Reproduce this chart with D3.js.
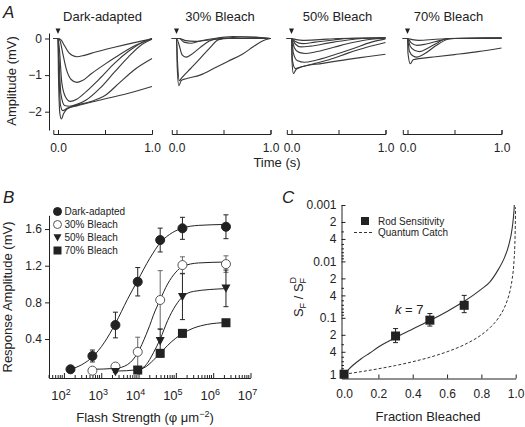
<!DOCTYPE html>
<html><head><meta charset="utf-8">
<script src="https://cdn.jsdelivr.net/npm/d3@7"></script>
<style>
body{margin:0;background:#fff;}
svg text{font-family:"Liberation Sans",Arial,Helvetica,sans-serif;fill:#222;}
</style></head><body>
<svg id="c" width="525" height="427"></svg>
<script>
// ---------------- DATA ----------------
// Panel A: ERG traces [time (s), amplitude (mV)]
const panelTitles = ["Dark-adapted", "30% Bleach", "50% Bleach", "70% Bleach"];
const darkTraces = [
  [[-0.05,0],[0,0],[0.03,-0.03],[0.07,-0.2],[0.12,-0.4],[0.2,-0.5],[0.28,-0.46],[0.4,-0.37],[0.6,-0.24],[0.8,-0.12],[1.0,-0.01]],
  [[-0.05,0],[0,0],[0.02,-0.05],[0.05,-0.4],[0.09,-0.85],[0.14,-1.12],[0.2,-1.2],[0.26,-1.15],[0.35,-0.97],[0.5,-0.7],[0.62,-0.5],[0.8,-0.22],[1.0,0]],
  [[-0.05,0],[0,0],[0.015,-0.3],[0.04,-1.2],[0.08,-1.6],[0.13,-1.72],[0.2,-1.66],[0.3,-1.45],[0.45,-1.08],[0.6,-0.68],[0.75,-0.35],[0.9,-0.1],[1.0,0]],
  [[-0.05,0],[0,0],[0.01,-0.5],[0.03,-1.5],[0.07,-1.83],[0.12,-1.85],[0.2,-1.8],[0.3,-1.68],[0.45,-1.35],[0.6,-0.92],[0.75,-0.5],[0.9,-0.15],[1.0,-0.02]],
  [[-0.05,0],[0,0],[0.008,-0.7],[0.025,-1.8],[0.05,-1.97],[0.1,-1.9],[0.2,-1.82],[0.35,-1.72],[0.5,-1.56],[0.65,-1.22],[0.8,-0.88],[1.0,-0.55]],
  [[-0.05,0],[0,0],[0.005,-1.0],[0.02,-2.05],[0.035,-2.2],[0.06,-2.05],[0.1,-1.92],[0.2,-1.84],[0.35,-1.74],[0.55,-1.62],[0.8,-1.46],[1.0,-1.31]]
];
const bleach30Traces = [
  [[-0.05,0],[0.03,0],[0.1,-0.06],[0.2,-0.08],[0.35,-0.04],[0.5,0],[0.7,0.04],[0.85,0.03],[1.0,0]],
  [[-0.05,0],[0.03,0],[0.08,-0.1],[0.15,-0.13],[0.25,-0.07],[0.4,0],[0.6,0.05],[0.8,0.04],[1.0,0]],
  [[-0.05,0],[0,0],[0.03,-0.2],[0.06,-0.45],[0.1,-0.51],[0.15,-0.45],[0.25,-0.25],[0.35,-0.07],[0.45,0],[1.0,0]],
  [[-0.05,0],[0,0],[0.01,-0.6],[0.03,-1.15],[0.06,-1.06],[0.15,-0.82],[0.25,-0.55],[0.35,-0.27],[0.45,-0.03],[0.55,0],[1.0,0]],
  [[-0.05,0],[0,0],[0.008,-0.8],[0.025,-1.29],[0.05,-1.15],[0.1,-1.1],[0.25,-1.0],[0.41,-0.8],[0.55,-0.62],[0.7,-0.43],[0.82,-0.22],[0.92,-0.06],[1.0,0]]
];
const bleach50Traces = [
  [[-0.05,0],[0,0],[0.05,-0.03],[0.12,-0.05],[0.3,-0.03],[0.5,0],[1.0,0.02]],
  [[-0.05,0],[0,0],[0.04,-0.08],[0.12,-0.14],[0.25,-0.1],[0.45,-0.04],[0.6,0],[1.0,0.02]],
  [[-0.05,0],[0,0],[0.04,-0.15],[0.1,-0.23],[0.2,-0.21],[0.4,-0.12],[0.6,-0.04],[0.75,0],[1.0,0.02]],
  [[-0.05,0],[0,0],[0.03,-0.25],[0.08,-0.38],[0.15,-0.41],[0.25,-0.37],[0.45,-0.24],[0.65,-0.11],[0.85,-0.02],[1.0,0.01]],
  [[-0.05,0],[0,0],[0.02,-0.4],[0.06,-0.6],[0.14,-0.65],[0.25,-0.6],[0.45,-0.45],[0.65,-0.28],[0.85,-0.1],[1.0,-0.01]],
  [[-0.05,0],[0,0],[0.01,-0.6],[0.04,-0.82],[0.1,-0.78],[0.25,-0.68],[0.4,-0.58],[0.6,-0.4],[0.8,-0.24],[1.0,-0.11]],
  [[-0.05,0],[0,0],[0.005,-0.6],[0.02,-0.96],[0.05,-0.84],[0.1,-0.78],[0.33,-0.68],[0.6,-0.57],[0.8,-0.5],[1.0,-0.43]]
];
const bleach70Traces = [
  [[-0.05,0],[0,0],[0.05,-0.03],[0.12,-0.05],[0.3,-0.02],[0.5,0],[1.0,0.01]],
  [[-0.05,0],[0,0],[0.04,-0.12],[0.1,-0.19],[0.2,-0.15],[0.35,-0.05],[0.45,0],[1.0,0.01]],
  [[-0.05,0],[0,0],[0.03,-0.22],[0.08,-0.33],[0.13,-0.36],[0.22,-0.26],[0.33,-0.1],[0.42,0],[1.0,0.01]],
  [[-0.05,0],[0,0],[0.02,-0.35],[0.06,-0.48],[0.1,-0.51],[0.18,-0.42],[0.3,-0.2],[0.43,-0.02],[0.5,0],[1.0,0.01]],
  [[-0.05,0],[0,0],[0.005,-0.4],[0.03,-0.69],[0.06,-0.58],[0.12,-0.55],[0.3,-0.5],[0.5,-0.44],[0.75,-0.36],[1.0,-0.26]]
];
const timeTicks = [0, 0.5, 1];
const ampTicksA = [0, -1, -2];

// Panel B: intensity-response
const groupNames = ["Dark-adapted", "30% Bleach", "50% Bleach", "70% Bleach"];
const flashDark = [150, 580, 2400, 9500, 38000, 150000, 2200000];
const ampDark   = [0.07, 0.215, 0.553, 1.025, 1.48, 1.608, 1.625];
const errDark   = [0.01, 0.065, 0.14, 0.155, 0.13, 0.12, 0.13];
const flash30 = [580, 2400, 9500, 38000, 150000, 2200000];
const amp30   = [0.055, 0.1, 0.26, 0.826, 1.207, 1.218];
const err30   = [0.02, 0.035, 0.16, 0.32, 0.09, 0.09];
const flash50 = [2400, 9500, 38000, 150000, 2200000];
const amp50   = [0.044, 0.06, 0.38, 0.862, 0.953];
const err50   = [0.01, 0.02, 0.13, 0.25, 0.2];
const flash70 = [9500, 38000, 150000, 2200000];
const amp70   = [0.062, 0.244, 0.462, 0.578];
const err70   = [0.01, 0.04, 0.04, 0.02];
const fitDark = [[150,0.07],[300,0.12],[600,0.21],[1200,0.36],[2400,0.57],[5000,0.83],[9500,1.04],[20000,1.28],[40000,1.46],[80000,1.56],[150000,1.61],[400000,1.64],[2200000,1.65]];
const fit30 = [[580,0.07],[2400,0.08],[5000,0.12],[9500,0.25],[16000,0.45],[20000,0.55],[25000,0.66],[38000,0.83],[60000,1.0],[100000,1.13],[150000,1.19],[400000,1.23],[2200000,1.24]];
const fit50 = [[2400,0.05],[9500,0.065],[16000,0.12],[25000,0.25],[38000,0.4],[60000,0.6],[100000,0.77],[150000,0.86],[300000,0.92],[2200000,0.95]];
const fit70 = [[9500,0.062],[16000,0.1],[25000,0.17],[38000,0.245],[60000,0.33],[100000,0.41],[150000,0.46],[300000,0.52],[700000,0.56],[2200000,0.58]];
const ampTicksB = [0.4, 0.8, 1.2, 1.6];
const decadeTicks = [1e2, 1e3, 1e4, 1e5, 1e6, 1e7];

// Panel C: sensitivity vs fraction bleached
const fracBleached = [0, 0.3, 0.5, 0.7];
const rodSens   = [1.0, 0.21, 0.11, 0.06];
const rodSensLo = [1.0, 0.155, 0.084, 0.04];
const rodSensHi = [1.0, 0.275, 0.14, 0.081];
const rodFit = [[0,1],[0.02,0.86],[0.05,0.7],[0.1,0.53],[0.15,0.42],[0.2,0.33],[0.3,0.225],[0.4,0.158],[0.5,0.112],[0.6,0.077],[0.7,0.051],[0.8,0.031],[0.85,0.023],[0.9,0.0137],[0.93,0.0092],[0.96,0.0051],[0.98,0.0025],[0.99,0.00126],[0.992,0.001]];
const quantumCatch = [[0,1],[0.1,0.9],[0.2,0.8],[0.3,0.7],[0.4,0.6],[0.5,0.5],[0.6,0.4],[0.7,0.3],[0.8,0.2],[0.85,0.15],[0.9,0.1],[0.93,0.07],[0.95,0.05],[0.97,0.03],[0.98,0.02],[0.99,0.01],[0.995,0.005],[0.998,0.002],[0.999,0.0011]];
const fracTicks = [0, 0.2, 0.4, 0.6, 0.8, 1.0];
const sensTicks = [0.001, 0.002, 0.004, 0.01, 0.02, 0.04, 0.1, 0.2, 0.4, 1];
const sensTickLabels = ["0.001", "2", "4", "0.01", "2", "4", "0.1", "2", "4", "1"];

// ---------------- DRAW ----------------
const svg = d3.select("#c");
const ink = "#222";

function styleAxis(g, fs) {
  g.attr("font-size", null).attr("font-family", null);
  g.selectAll("path.domain").attr("stroke", ink).attr("stroke-width", 1);
  g.selectAll(".tick line").attr("stroke", ink).attr("stroke-width", 1);
  g.selectAll(".tick text").attr("font-size", fs).attr("fill", ink);
}

// ===== Panel A =====
svg.append("text").attr("x", 3).attr("y", 18).attr("font-size", 17).attr("font-style", "italic").text("A");
const panelTraces = [darkTraces, bleach30Traces, bleach50Traces, bleach70Traces];
const panelX0 = [58, 176.5, 291.5, 407.5];
const titleX = [102.5, 220, 337.5, 448.5];
const panelW = 94;
const yA = d3.scaleLinear().domain([0.15, -2.5]).range([33, 130]);

panelTraces.forEach((traces, i) => {
  const x = d3.scaleLinear().domain([-0.05, 1]).range([panelX0[i] - 0.05 * panelW, panelX0[i] + panelW]);
  const g = svg.append("g");
  const line = d3.line().x(d => x(d[0])).y(d => yA(d[1])).curve(d3.curveMonotoneX);
  g.selectAll("path.trace").data(traces).join("path")
    .attr("class", "trace").attr("d", line)
    .attr("fill", "none").attr("stroke", "#3a3a3a").attr("stroke-width", 1.15);
  const ax = g.append("g").attr("transform", "translate(0,134)")
    .call(d3.axisBottom(x).tickValues(timeTicks).tickSize(-4).tickSizeOuter(-4).tickPadding(9)
      .tickFormat(d => d === 0.5 ? "" : d3.format(".1f")(d)));
  styleAxis(ax, 12);
  // stimulus marker
  g.append("path").attr("d", "M-2.5,-3.5L2.5,-3.5L0,2Z").attr("fill", ink)
    .attr("transform", `translate(${x(0)},32)`);
  g.append("text").attr("x", titleX[i]).attr("y", 21).attr("text-anchor", "middle")
    .attr("font-size", 13).text(panelTitles[i]);
});
const yAxA = svg.append("g").attr("transform", "translate(49,0)")
  .call(d3.axisLeft(yA).tickValues(ampTicksA).tickSize(4).tickSizeOuter(0).tickPadding(3).tickFormat(d3.format("d")));
styleAxis(yAxA, 12);
svg.append("text").attr("transform", "translate(16,81) rotate(-90)").attr("text-anchor", "middle")
  .attr("font-size", 13).text("Amplitude (mV)");
svg.append("text").attr("x", 277).attr("y", 167).attr("text-anchor", "middle").attr("font-size", 13).text("Time (s)");

// ===== Panel B =====
svg.append("text").attr("x", 3).attr("y", 203).attr("font-size", 17).attr("font-style", "italic").text("B");
const xB = d3.scaleLog().domain([Math.pow(10, 1.6), 1e7]).range([49, 250.5]);
const yB = d3.scaleLinear().domain([-0.025, 1.75]).range([378, 215.3]);
const gB = svg.append("g");
const yAxB = gB.append("g").attr("transform", "translate(49,0)")
  .call(d3.axisLeft(yB).tickValues(ampTicksB).tickSize(4).tickSizeOuter(0).tickPadding(3).tickFormat(d3.format(".1f")));
styleAxis(yAxB, 12);
const minorB = [];
for (let e = 1; e < 7; e++) for (let m = 2; m < 10; m++) { const v = m * Math.pow(10, e); if (v > xB.domain()[0] && v < 1e7) minorB.push(v); }
const xAxB = gB.append("g").attr("transform", "translate(0,378)")
  .call(d3.axisBottom(xB).tickValues(decadeTicks).tickSize(-5).tickSizeOuter(0).tickFormat(""));
styleAxis(xAxB, 12);
gB.append("g").selectAll("line").data(minorB).join("line")
  .attr("x1", d => xB(d)).attr("x2", d => xB(d)).attr("y1", 378).attr("y2", 375).attr("stroke", ink);
gB.append("g").selectAll("text").data(decadeTicks).join("text")
  .attr("x", d => xB(d) - 3).attr("y", 400).attr("text-anchor", "middle").attr("font-size", 13)
  .each(function (d) {
    const t = d3.select(this);
    t.append("tspan").text("10");
    t.append("tspan").attr("dy", -5).attr("font-size", 9).text(Math.round(Math.log10(d)));
  });
svg.append("text").attr("transform", "translate(12,297) rotate(-90)").attr("text-anchor", "middle")
  .attr("font-size", 13).text("Response Amplitude (mV)");
const xtB = svg.append("text").attr("x", 145).attr("y", 422).attr("text-anchor", "middle").attr("font-size", 13);
xtB.append("tspan").text("Flash Strength (\u03C6 \u03BCm");
xtB.append("tspan").attr("dy", -5).attr("font-size", 9).text("\u22122");
xtB.append("tspan").attr("dy", 5).text(")");

const groups = [
  {name: groupNames[0], flash: flashDark, amp: ampDark, err: errDark, fit: fitDark, sym: "circle", fill: ink},
  {name: groupNames[1], flash: flash30, amp: amp30, err: err30, fit: fit30, sym: "circle", fill: "#fff"},
  {name: groupNames[2], flash: flash50, amp: amp50, err: err50, fit: fit50, sym: "tri", fill: ink},
  {name: groupNames[3], flash: flash70, amp: amp70, err: err70, fit: fit70, sym: "square", fill: ink}
];
function marker(sel, sym, fill, size) {
  if (sym === "circle") sel.append("circle").attr("r", size / 2).attr("fill", fill).attr("stroke", fill === "#fff" ? "#555" : ink).attr("stroke-width", 1);
  else if (sym === "tri") sel.append("path").attr("d", `M${-size/2},${-size*0.42}L${size/2},${-size*0.42}L0,${size*0.5}Z`).attr("fill", fill);
  else sel.append("rect").attr("x", -size / 2).attr("y", -size / 2).attr("width", size).attr("height", size).attr("fill", fill);
}
const fitLine = d3.line().x(d => xB(d[0])).y(d => yB(d[1])).curve(d3.curveMonotoneX);
groups.forEach(gr => {
  gB.append("path").attr("d", fitLine(gr.fit)).attr("fill", "none").attr("stroke", ink).attr("stroke-width", 1);
});
groups.forEach(gr => {
  const pts = gr.flash.map((f, i) => ({f, a: gr.amp[i], e: gr.err[i]}));
  const eb = gB.append("g").selectAll("g").data(pts).join("g").attr("stroke", gr.fill === "#fff" ? "#666" : ink).attr("stroke-width", 1);
  eb.append("line").attr("x1", d => xB(d.f)).attr("x2", d => xB(d.f)).attr("y1", d => yB(d.a - d.e)).attr("y2", d => yB(d.a + d.e));
  eb.append("line").attr("x1", d => xB(d.f) - 2.5).attr("x2", d => xB(d.f) + 2.5).attr("y1", d => yB(d.a - d.e)).attr("y2", d => yB(d.a - d.e));
  eb.append("line").attr("x1", d => xB(d.f) - 2.5).attr("x2", d => xB(d.f) + 2.5).attr("y1", d => yB(d.a + d.e)).attr("y2", d => yB(d.a + d.e));
});
groups.forEach(gr => {
  const pts = gr.flash.map((f, i) => ({f, a: gr.amp[i]}));
  gB.append("g").selectAll("g").data(pts).join("g")
    .attr("transform", d => `translate(${xB(d.f)},${yB(d.a)})`)
    .each(function () { marker(d3.select(this), gr.sym, gr.fill, 9); });
});
groups.forEach((gr, i) => {
  const lg = gB.append("g").attr("transform", `translate(57.5,${211.5 + i * 13})`);
  marker(lg, gr.sym, gr.fill, 8);
  lg.append("text").attr("x", 7).attr("y", 3.6).attr("font-size", 10).text(gr.name);
});

// ===== Panel C =====
svg.append("text").attr("x", 282).attr("y", 203).attr("font-size", 17).attr("font-style", "italic").text("C");
const xC = d3.scaleLinear().domain([-0.015, 1.0]).range([341.5, 515.7]);
const yC = d3.scaleLog().domain([0.001, 1.19]).range([205, 378.5]);
const gC = svg.append("g");
const minorC = [];
for (let e = -3; e < 0; e++) for (let m = 2; m < 10; m++) { const v = m * Math.pow(10, e); if (!sensTicks.some(s => Math.abs(s - v) < 1e-9)) minorC.push(v); }
const yAxC = gC.append("g").attr("transform", "translate(341.5,0)")
  .call(d3.axisLeft(yC).tickValues(sensTicks).tickSize(-4).tickSizeOuter(0).tickPadding(5)
    .tickFormat((d, i) => sensTickLabels[i]));
styleAxis(yAxC, 12);
gC.append("g").selectAll("line").data(minorC).join("line")
  .attr("x1", 341.5).attr("x2", 344).attr("y1", d => yC(d)).attr("y2", d => yC(d)).attr("stroke", ink);
const xAxC = gC.append("g").attr("transform", "translate(0,378.5)")
  .call(d3.axisBottom(xC).tickValues(fracTicks).tickSize(-4).tickSizeOuter(0).tickPadding(11).tickFormat(d3.format(".1f")));
styleAxis(xAxC, 12);
const sLine = d3.line().x(d => xC(d[0])).y(d => yC(d[1])).curve(d3.curveMonotoneX);
gC.append("path").attr("d", sLine(quantumCatch)).attr("fill", "none").attr("stroke", "#333").attr("stroke-width", 1).attr("stroke-dasharray", "3,2");
gC.append("path").attr("d", sLine(rodFit)).attr("fill", "none").attr("stroke", "#333").attr("stroke-width", 1.1);
const cPts = fracBleached.map((f, i) => ({f, v: rodSens[i], lo: rodSensLo[i], hi: rodSensHi[i]}));
const cEb = gC.append("g").selectAll("g").data(cPts.filter(d => d.lo !== d.hi)).join("g").attr("stroke", ink);
cEb.append("line").attr("x1", d => xC(d.f)).attr("x2", d => xC(d.f)).attr("y1", d => yC(d.lo)).attr("y2", d => yC(d.hi));
cEb.append("line").attr("x1", d => xC(d.f) - 2.5).attr("x2", d => xC(d.f) + 2.5).attr("y1", d => yC(d.lo)).attr("y2", d => yC(d.lo));
cEb.append("line").attr("x1", d => xC(d.f) - 2.5).attr("x2", d => xC(d.f) + 2.5).attr("y1", d => yC(d.hi)).attr("y2", d => yC(d.hi));
gC.append("g").selectAll("rect").data(cPts).join("rect")
  .attr("x", d => xC(d.f) - 4.5).attr("y", d => yC(d.v) - 4.5).attr("width", 9).attr("height", 9).attr("fill", ink);
gC.append("rect").attr("x", 361).attr("y", 217).attr("width", 8).attr("height", 8).attr("fill", ink);
gC.append("text").attr("x", 378).attr("y", 224.5).attr("font-size", 10).text("Rod Sensitivity");
gC.append("line").attr("x1", 354).attr("x2", 373).attr("y1", 232.5).attr("y2", 232.5).attr("stroke", "#333").attr("stroke-dasharray", "3,2");
gC.append("text").attr("x", 378).attr("y", 236).attr("font-size", 10).text("Quantum Catch");
const kt = gC.append("text").attr("x", 395).attr("y", 314).attr("font-size", 13);
kt.append("tspan").attr("font-style", "italic").text("k");
kt.append("tspan").text(" = 7");
const ytC = svg.append("text").attr("transform", "translate(303,297) rotate(-90)").attr("text-anchor", "middle").attr("font-size", 13);
ytC.append("tspan").text("S");
ytC.append("tspan").attr("dy", 3).attr("font-size", 9).text("F");
ytC.append("tspan").attr("dy", -3).text(" / S");
ytC.append("tspan").attr("dy", 3).attr("font-size", 9).text("F");
ytC.append("tspan").attr("dy", -10).attr("dx", -5.5).attr("font-size", 9).text("D");
svg.append("text").attr("x", 428).attr("y", 421).attr("text-anchor", "middle").attr("font-size", 13).text("Fraction Bleached");
</script>
</body></html>
